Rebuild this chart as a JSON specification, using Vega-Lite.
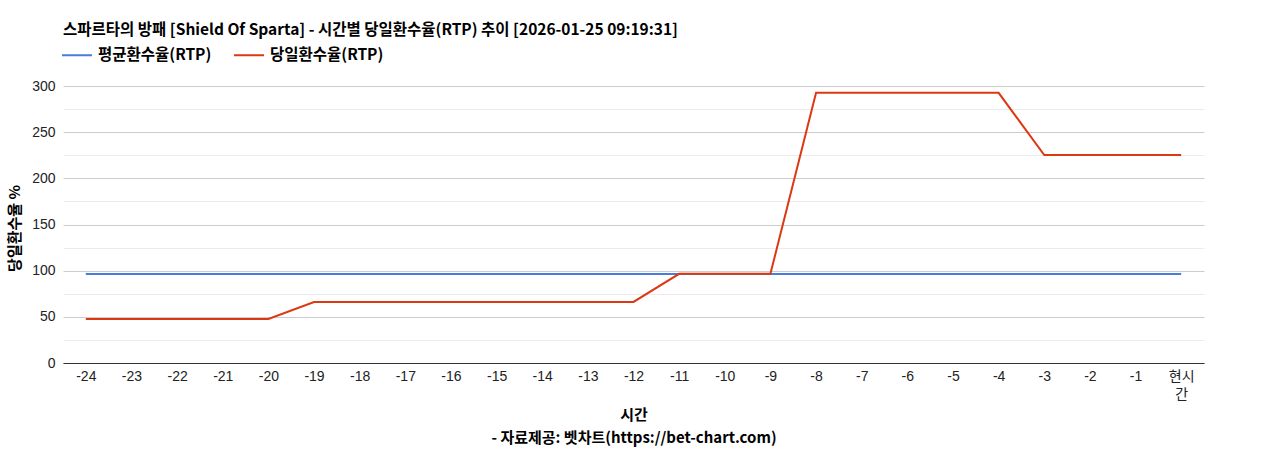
{
  "$schema": "https://vega.github.io/schema/vega-lite/v6.json",
  "description": "스파르타의 방패 시간별 당일환수율(RTP) 추이",
  "width": 1141,
  "height": 277,
  "autosize": "none",
  "padding": {"left": 63, "top": 86, "right": 64, "bottom": 87},
  "title": {
    "text": "스파르타의 방패 [Shield Of Sparta] - 시간별 당일환수율(RTP) 추이 [2026-01-25 09:19:31]",
    "anchor": "start",
    "frame": "group",
    "offset": 1,
    "font": "Noto Sans CJK KR",
    "fontSize": 15.5,
    "fontWeight": "bold",
    "color": "#000000"
  },
  "data": {
    "values": [
      {"hour": "-24", "series": "평균환수율(RTP)", "rtp": 96.4},
      {"hour": "-23", "series": "평균환수율(RTP)", "rtp": 96.4},
      {"hour": "-22", "series": "평균환수율(RTP)", "rtp": 96.4},
      {"hour": "-21", "series": "평균환수율(RTP)", "rtp": 96.4},
      {"hour": "-20", "series": "평균환수율(RTP)", "rtp": 96.4},
      {"hour": "-19", "series": "평균환수율(RTP)", "rtp": 96.4},
      {"hour": "-18", "series": "평균환수율(RTP)", "rtp": 96.4},
      {"hour": "-17", "series": "평균환수율(RTP)", "rtp": 96.4},
      {"hour": "-16", "series": "평균환수율(RTP)", "rtp": 96.4},
      {"hour": "-15", "series": "평균환수율(RTP)", "rtp": 96.4},
      {"hour": "-14", "series": "평균환수율(RTP)", "rtp": 96.4},
      {"hour": "-13", "series": "평균환수율(RTP)", "rtp": 96.4},
      {"hour": "-12", "series": "평균환수율(RTP)", "rtp": 96.4},
      {"hour": "-11", "series": "평균환수율(RTP)", "rtp": 96.4},
      {"hour": "-10", "series": "평균환수율(RTP)", "rtp": 96.4},
      {"hour": "-9", "series": "평균환수율(RTP)", "rtp": 96.4},
      {"hour": "-8", "series": "평균환수율(RTP)", "rtp": 96.4},
      {"hour": "-7", "series": "평균환수율(RTP)", "rtp": 96.4},
      {"hour": "-6", "series": "평균환수율(RTP)", "rtp": 96.4},
      {"hour": "-5", "series": "평균환수율(RTP)", "rtp": 96.4},
      {"hour": "-4", "series": "평균환수율(RTP)", "rtp": 96.4},
      {"hour": "-3", "series": "평균환수율(RTP)", "rtp": 96.4},
      {"hour": "-2", "series": "평균환수율(RTP)", "rtp": 96.4},
      {"hour": "-1", "series": "평균환수율(RTP)", "rtp": 96.4},
      {"hour": "현시간", "series": "평균환수율(RTP)", "rtp": 96.4},
      {"hour": "-24", "series": "당일환수율(RTP)", "rtp": 47.7},
      {"hour": "-23", "series": "당일환수율(RTP)", "rtp": 47.7},
      {"hour": "-22", "series": "당일환수율(RTP)", "rtp": 47.7},
      {"hour": "-21", "series": "당일환수율(RTP)", "rtp": 47.7},
      {"hour": "-20", "series": "당일환수율(RTP)", "rtp": 47.7},
      {"hour": "-19", "series": "당일환수율(RTP)", "rtp": 66.1},
      {"hour": "-18", "series": "당일환수율(RTP)", "rtp": 66.1},
      {"hour": "-17", "series": "당일환수율(RTP)", "rtp": 66.1},
      {"hour": "-16", "series": "당일환수율(RTP)", "rtp": 66.1},
      {"hour": "-15", "series": "당일환수율(RTP)", "rtp": 66.1},
      {"hour": "-14", "series": "당일환수율(RTP)", "rtp": 66.1},
      {"hour": "-13", "series": "당일환수율(RTP)", "rtp": 66.1},
      {"hour": "-12", "series": "당일환수율(RTP)", "rtp": 66.1},
      {"hour": "-11", "series": "당일환수율(RTP)", "rtp": 96.6},
      {"hour": "-10", "series": "당일환수율(RTP)", "rtp": 96.6},
      {"hour": "-9", "series": "당일환수율(RTP)", "rtp": 96.6},
      {"hour": "-8", "series": "당일환수율(RTP)", "rtp": 292.6},
      {"hour": "-7", "series": "당일환수율(RTP)", "rtp": 292.6},
      {"hour": "-6", "series": "당일환수율(RTP)", "rtp": 292.6},
      {"hour": "-5", "series": "당일환수율(RTP)", "rtp": 292.6},
      {"hour": "-4", "series": "당일환수율(RTP)", "rtp": 292.6},
      {"hour": "-3", "series": "당일환수율(RTP)", "rtp": 225.3},
      {"hour": "-2", "series": "당일환수율(RTP)", "rtp": 225.3},
      {"hour": "-1", "series": "당일환수율(RTP)", "rtp": 225.3},
      {"hour": "현시간", "series": "당일환수율(RTP)", "rtp": 225.3}
    ]
  },
  "mark": {"type": "line", "strokeWidth": 2},
  "encoding": {
    "x": {
      "field": "hour",
      "type": "ordinal",
      "sort": ["-24", "-23", "-22", "-21", "-20", "-19", "-18", "-17", "-16", "-15", "-14", "-13", "-12", "-11", "-10", "-9", "-8", "-7", "-6", "-5", "-4", "-3", "-2", "-1", "현시간"],
      "scale": {"type": "point", "padding": 0.5},
      "axis": {
        "title": ["시간", "- 자료제공: 벳차트(https://bet-chart.com)"],
        "titleFont": "Noto Sans CJK KR",
        "titleFontSize": 15,
        "titleFontWeight": "bold",
        "titleColor": "#000000",
        "titleBaseline": "top",
        "titleY": 44.5,
        "titleLineHeight": 22.5,
        "labelExpr": "datum.label == '현시간' ? ['현시', '간'] : datum.label",
        "labelAngle": 0,
        "labelFont": "Liberation Sans, Noto Sans CJK KR",
        "labelFontSize": 14,
        "labelColor": "#222222",
        "labelPadding": 6,
        "labelLineHeight": 18,
        "ticks": false,
        "domainColor": "#333333",
        "domainWidth": 1,
        "grid": false
      }
    },
    "y": {
      "field": "rtp",
      "type": "quantitative",
      "scale": {"domain": [0, 300], "nice": false, "zero": true},
      "axis": {
        "title": "당일환수율 %",
        "titleFont": "Noto Sans CJK KR",
        "titleFontSize": 15,
        "titleFontWeight": "bold",
        "titleColor": "#000000",
        "titleX": -41,
        "titleY": 142,
        "titleAlign": "center",
        "values": [0, 25, 50, 75, 100, 125, 150, 175, 200, 225, 250, 275, 300],
        "labelExpr": "datum.value % 50 === 0 ? datum.label : ''",
        "labelFont": "Liberation Sans",
        "labelFontSize": 14,
        "labelColor": "#222222",
        "labelPadding": 8,
        "ticks": false,
        "domain": false,
        "grid": true,
        "gridColor": {"condition": {"test": "datum.value % 50 === 0", "value": "#cccccc"}, "value": "#ebebeb"},
        "gridWidth": 1
      }
    },
    "color": {
      "field": "series",
      "type": "nominal",
      "sort": ["평균환수율(RTP)", "당일환수율(RTP)"],
      "scale": {"domain": ["평균환수율(RTP)", "당일환수율(RTP)"], "range": ["#4a7bde", "#dc3912"]},
      "legend": {
        "title": null,
        "orient": "none",
        "legendX": -2,
        "legendY": -47,
        "direction": "horizontal",
        "symbolType": "stroke",
        "symbolSize": 900,
        "symbolStrokeWidth": 2,
        "labelFont": "Noto Sans CJK KR",
        "labelFontSize": 15.5,
        "labelFontWeight": "bold",
        "labelColor": "#000000",
        "columnPadding": 18,
        "labelOffset": 5
      }
    }
  },
  "config": {
    "view": {"stroke": null},
    "background": "#ffffff"
  }
}
